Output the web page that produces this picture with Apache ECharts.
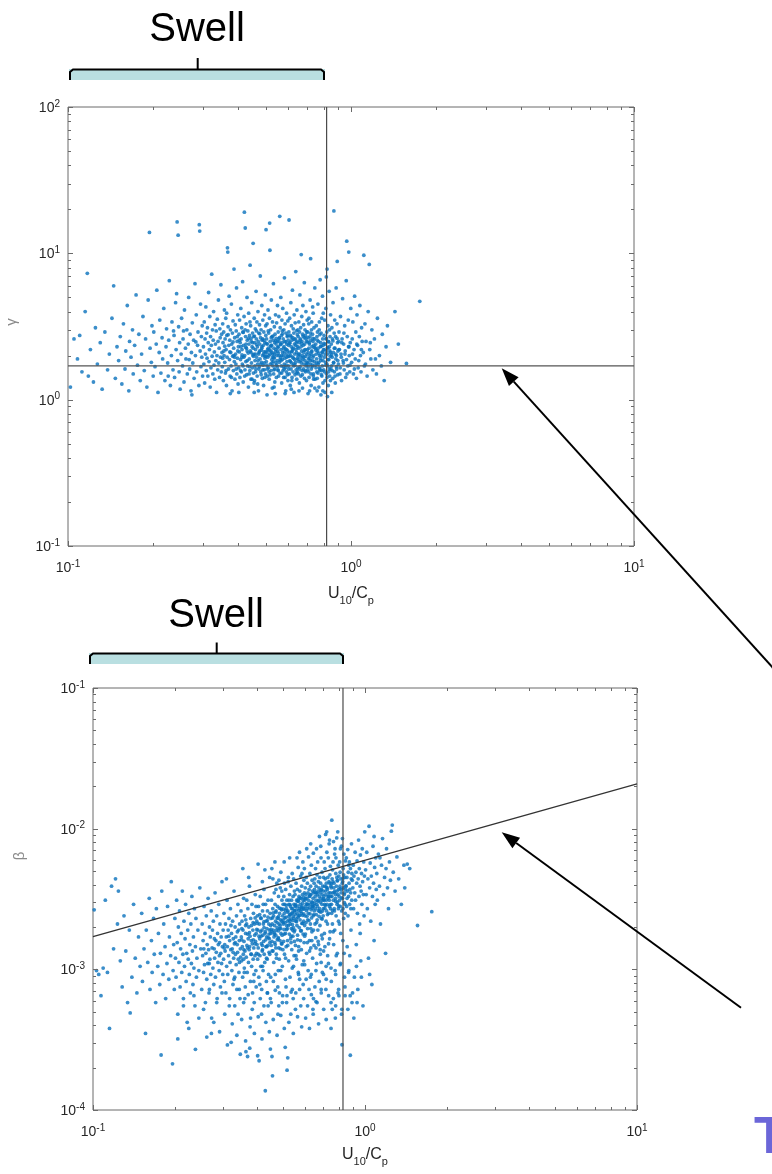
<!DOCTYPE html>
<html>
<head>
<meta charset="utf-8">
<script src="https://cdn.jsdelivr.net/npm/echarts@6/dist/echarts.min.js"></script>
<style>
html,body{margin:0;padding:0;background:#fff;}
#c{width:772px;height:1174px;}
</style>
</head>
<body>
<div id="c"></div>
<script>
// ---------- DATA ----------
// top panel: gamma vs U10/Cp
const gammaPoints = [
[0.102,1.22],[0.105,2.6],[0.108,1.9],[0.11,2.75],[0.112,1.55],[0.115,4.0],[0.117,7.3],[0.118,1.45],[0.12,2.2],[0.123,1.32],[0.125,3.1],[0.127,1.75],[0.13,2.45],[0.132,1.18],[0.135,2.9],[0.138,1.6],[0.14,2.05],[0.143,3.6],[0.145,6.0],[0.147,1.4],[0.149,2.3],
[0.151,1.85],[0.153,2.7],[0.155,1.28],[0.157,3.3],[0.159,1.62],[0.16,2.15],[0.162,4.4],[0.164,1.15],[0.165,2.5],[0.167,1.95],[0.169,3.0],[0.17,1.5],[0.172,2.35],[0.174,5.2],[0.176,1.72],[0.178,2.8],[0.18,1.35],[0.182,2.05],[0.184,3.7],[0.186,1.58],[0.188,2.6],[0.19,1.22],[0.192,4.8],[0.194,13.9],[0.195,2.25],[0.197,1.8],[0.198,3.2],[0.2,1.45],
[0.201,2.9],[0.203,1.68],[0.205,2.4],[0.206,5.6],[0.208,1.12],[0.21,2.1],[0.211,3.5],[0.213,1.52],[0.215,2.65],[0.216,1.9],[0.218,4.2],[0.22,1.35],[0.222,2.3],[0.223,3.05],[0.225,1.78],[0.227,2.55],[0.228,6.5],[0.23,1.25],[0.232,2.0],[0.233,3.4],[0.235,1.6],[0.237,2.75],[0.238,1.42],[0.24,4.6],[0.241,2.2],[0.243,16.4],[0.245,13.3],[0.244,1.85],[0.246,3.15],[0.247,1.55],[0.248,2.45],[0.249,1.18],[0.242,5.3],[0.236,2.95],[0.226,1.45],
[0.251,2.05],[0.252,3.6],[0.254,1.7],[0.255,2.6],[0.257,1.32],[0.258,4.1],[0.26,2.25],[0.261,1.9],[0.263,3.0],[0.264,1.5],[0.266,2.4],[0.267,5.0],[0.269,1.62],[0.27,2.8],[0.272,1.15],[0.273,2.1],[0.275,3.35],[0.276,1.78],[0.278,2.55],[0.279,1.4],[0.281,6.2],[0.282,2.0],[0.284,3.8],[0.285,1.55],[0.287,2.35],[0.288,2.9],[0.29,1.25],[0.291,15.7],[0.292,14.2],[0.293,2.15],[0.294,4.5],[0.295,1.68],[0.296,2.7],[0.297,1.95],[0.298,3.2],[0.299,1.45],[0.256,2.95],[0.268,1.88],[0.283,2.48],[0.274,1.08],
[0.301,2.3],[0.302,1.75],[0.303,3.4],[0.304,1.3],[0.305,2.6],[0.306,2.05],[0.307,4.3],[0.308,1.58],[0.309,2.85],[0.31,1.92],[0.311,3.1],[0.312,1.45],[0.313,2.45],[0.314,5.4],[0.315,1.82],[0.316,2.2],[0.317,3.7],[0.318,1.22],[0.319,2.7],[0.32,1.65],[0.321,2.35],[0.322,7.2],[0.323,1.98],[0.324,3.0],[0.325,1.5],[0.326,2.55],[0.327,4.0],[0.328,1.72],[0.329,2.12],[0.33,1.38],[0.331,3.25],[0.332,2.4],[0.333,1.85],[0.334,2.95],[0.335,1.12],[0.336,2.0],[0.337,3.55],[0.338,1.6],[0.339,2.5],[0.34,4.8],[0.341,1.78],[0.342,2.25],[0.343,1.42],[0.344,3.05],[0.345,2.65],[0.346,1.95],[0.347,6.1],[0.348,1.55],[0.349,2.8],[0.35,2.1],
[0.351,1.68],[0.352,3.3],[0.353,2.45],[0.354,1.35],[0.355,2.9],[0.356,2.0],[0.357,4.1],[0.358,1.8],[0.359,2.6],[0.36,1.52],[0.361,3.6],[0.362,2.2],[0.363,1.25],[0.364,2.75],[0.365,1.95],[0.366,10.9],[0.367,10.2],[0.368,3.15],[0.369,1.62],[0.37,2.35],[0.371,5.1],[0.372,1.88],[0.373,2.55],[0.374,1.45],[0.375,3.0],[0.376,2.1],[0.377,1.7],[0.378,4.5],[0.379,2.4],[0.38,1.15],[0.381,2.85],[0.382,1.98],[0.383,3.45],[0.384,1.58],[0.385,2.25],[0.386,7.8],[0.387,1.82],[0.388,2.65],[0.389,1.38],[0.39,3.25],[0.391,2.05],[0.392,1.75],[0.393,2.95],[0.394,5.8],[0.395,1.5],[0.396,2.5],[0.397,1.92],[0.398,3.8],[0.399,1.28],[0.4,2.3],[0.3555,2.15],[0.3635,3.9],[0.3745,1.1],[0.3855,2.0],[0.3965,2.7],
[0.401,1.65],[0.402,2.8],[0.403,2.12],[0.404,3.5],[0.405,1.42],[0.406,2.45],[0.407,1.88],[0.408,4.2],[0.409,2.6],[0.41,1.55],[0.411,3.1],[0.412,2.2],[0.413,1.75],[0.414,6.4],[0.415,2.9],[0.416,1.32],[0.417,2.35],[0.418,1.95],[0.419,3.7],[0.42,19.1],[0.421,2.0],[0.422,1.6],[0.423,14.9],[0.424,2.7],[0.425,1.82],[0.426,3.3],[0.427,2.25],[0.428,1.48],[0.429,5.0],[0.43,2.55],[0.431,1.7],[0.432,2.95],[0.433,2.08],[0.434,1.22],[0.435,3.9],[0.436,2.4],[0.437,1.9],[0.438,2.75],[0.439,1.58],[0.44,8.3],[0.441,2.15],[0.442,3.2],[0.443,1.38],[0.444,2.5],[0.445,1.78],[0.446,4.6],[0.447,2.3],[0.448,1.65],[0.449,2.85],[0.45,2.02],[0.4015,1.12],[0.4085,2.3],[0.4155,1.7],[0.4225,3.0],[0.4295,2.15],[0.4365,1.5],[0.4435,2.62],[0.4115,1.95],[0.4255,2.4],[0.4395,3.4],
[0.451,11.7],[0.452,1.52],[0.453,2.7],[0.454,2.05],[0.455,3.6],[0.456,1.35],[0.457,2.45],[0.458,1.85],[0.459,3.05],[0.46,2.2],[0.461,1.62],[0.462,5.5],[0.463,2.6],[0.464,1.95],[0.465,3.4],[0.466,1.45],[0.467,2.3],[0.468,1.75],[0.469,4.0],[0.47,2.5],[0.471,1.15],[0.472,2.85],[0.473,2.1],[0.474,1.68],[0.475,3.25],[0.476,2.4],[0.477,1.9],[0.478,7.0],[0.479,2.65],[0.48,1.55],[0.481,3.0],[0.482,2.18],[0.483,1.8],[0.484,4.4],[0.485,2.55],[0.486,1.4],[0.487,2.0],[0.488,3.5],[0.489,1.72],[0.49,2.35],[0.491,1.25],[0.492,2.9],[0.493,2.12],[0.494,1.6],[0.495,3.8],[0.496,2.45],[0.497,1.98],[0.498,5.2],[0.499,1.5],[0.5,2.75],[0.4515,2.25],[0.4575,1.7],[0.4635,2.95],[0.4695,1.85],[0.4755,2.15],[0.4815,1.48],[0.4875,2.6],[0.4935,1.78],[0.4995,3.2],[0.4605,2.05],[0.4725,1.62],[0.4845,2.3],[0.4965,1.92],[0.4545,1.3],[0.4905,2.05],
[0.501,14.5],[0.502,1.82],[0.503,2.6],[0.504,2.1],[0.505,3.3],[0.506,1.45],[0.507,2.4],[0.508,1.95],[0.509,4.1],[0.51,2.25],[0.511,1.65],[0.512,2.85],[0.513,2.0],[0.514,1.38],[0.515,3.6],[0.516,16.1],[0.517,10.5],[0.518,2.5],[0.519,1.75],[0.52,3.0],[0.521,2.15],[0.522,1.58],[0.523,4.8],[0.524,2.35],[0.525,1.88],[0.526,2.7],[0.527,1.2],[0.528,3.4],[0.529,2.05],[0.53,1.7],[0.531,2.55],[0.532,6.2],[0.533,1.5],[0.534,2.25],[0.535,1.92],[0.536,3.15],[0.537,2.45],[0.538,1.62],[0.539,2.8],[0.54,1.1],[0.541,3.8],[0.542,2.2],[0.543,1.78],[0.544,2.62],[0.545,1.42],[0.546,3.35],[0.547,2.0],[0.548,1.85],[0.549,2.5],[0.55,4.4],[0.5015,1.98],[0.5075,2.2],[0.5135,1.55],[0.5195,2.3],[0.5255,2.1],[0.5315,1.82],[0.5375,2.05],[0.5435,2.4],[0.5495,1.68],[0.5045,1.72],[0.5165,2.05],[0.5285,1.95],[0.5405,2.12],[0.5225,2.65],[0.5345,1.6],
[0.551,2.15],[0.552,1.6],[0.553,2.9],[0.554,2.3],[0.555,1.45],[0.556,3.7],[0.557,2.0],[0.558,1.8],[0.559,2.65],[0.56,17.9],[0.561,1.52],[0.562,3.1],[0.563,2.4],[0.564,1.95],[0.565,5.0],[0.566,2.2],[0.567,1.7],[0.568,2.75],[0.569,1.3],[0.57,3.5],[0.571,2.45],[0.572,1.88],[0.573,2.1],[0.574,4.2],[0.575,1.58],[0.576,2.6],[0.577,2.0],[0.578,1.42],[0.579,3.0],[0.58,2.3],[0.581,1.75],[0.582,6.8],[0.583,2.5],[0.584,1.92],[0.585,3.3],[0.586,1.65],[0.587,2.22],[0.588,1.15],[0.589,2.85],[0.59,2.05],[0.591,1.55],[0.592,3.9],[0.593,2.4],[0.594,1.82],[0.595,2.7],[0.596,1.48],[0.597,2.15],[0.598,3.45],[0.599,1.98],[0.6,2.55],[0.5535,2.08],[0.5655,1.85],[0.5775,2.25],[0.5895,1.72],[0.5565,2.5],[0.5685,2.0],[0.5805,1.62],[0.5925,2.2],[0.5985,1.35],[0.5715,2.95],
[0.601,1.7],[0.602,2.35],[0.603,2.9],[0.604,16.9],[0.605,1.5],[0.606,2.1],[0.607,3.6],[0.608,1.85],[0.609,2.45],[0.61,1.25],[0.611,2.75],[0.612,2.0],[0.613,4.6],[0.614,1.62],[0.615,2.3],[0.616,3.2],[0.617,1.78],[0.618,2.55],[0.619,1.42],[0.62,2.15],[0.621,5.6],[0.622,1.95],[0.623,2.65],[0.624,1.55],[0.625,3.05],[0.626,2.25],[0.627,1.7],[0.628,2.85],[0.629,1.12],[0.63,3.8],[0.631,2.4],[0.632,1.88],[0.633,2.05],[0.634,1.48],[0.635,3.35],[0.636,2.6],[0.637,1.8],[0.638,7.5],[0.639,2.2],[0.64,1.6],[0.641,2.95],[0.642,2.1],[0.643,1.38],[0.644,4.1],[0.645,2.5],[0.646,1.92],[0.647,2.3],[0.648,1.65],[0.649,3.0],[0.65,2.0],[0.6045,1.98],[0.6165,2.12],[0.6285,1.75],[0.6405,2.45],[0.6465,1.55],
[0.651,2.7],[0.652,1.5],[0.653,2.25],[0.654,3.4],[0.655,1.82],[0.656,2.45],[0.657,1.3],[0.658,2.9],[0.659,2.05],[0.66,5.2],[0.661,1.68],[0.662,2.6],[0.663,1.95],[0.664,3.1],[0.665,1.45],[0.666,2.3],[0.667,9.8],[0.668,1.78],[0.669,2.15],[0.67,3.7],[0.671,2.5],[0.672,1.58],[0.673,2.0],[0.674,1.2],[0.675,2.8],[0.676,4.4],[0.677,1.9],[0.678,2.35],[0.679,1.62],[0.68,3.25],[0.681,2.1],[0.682,1.75],[0.683,2.65],[0.684,6.3],[0.685,1.4],[0.686,2.4],[0.687,1.85],[0.688,3.0],[0.689,2.2],[0.69,1.55],[0.691,2.75],[0.692,1.98],[0.693,4.0],[0.694,1.7],[0.695,2.5],[0.696,1.35],[0.697,2.9],[0.698,2.05],[0.699,1.8],[0.7,3.5],
[0.701,2.2],[0.703,1.6],[0.705,2.65],[0.707,1.9],[0.709,3.3],[0.711,1.42],[0.713,2.4],[0.715,2.0],[0.717,4.8],[0.719,1.75],[0.72,9.2],[0.721,2.55],[0.723,1.25],[0.725,3.0],[0.727,2.15],[0.729,1.68],[0.731,2.8],[0.733,1.95],[0.735,3.9],[0.737,1.5],[0.739,2.35],[0.741,1.82],[0.743,2.6],[0.745,5.8],[0.747,1.38],[0.749,2.25],[0.702,2.9],[0.704,1.78],[0.706,2.1],[0.708,1.55],[0.71,3.6],[0.712,2.45],[0.714,1.15],[0.716,2.7],[0.718,1.85],[0.722,2.05],[0.724,1.62],[0.726,3.4],[0.728,2.3],[0.73,1.72],[0.732,4.3],[0.734,2.5],[0.736,1.45],[0.738,2.0],[0.74,3.1],
[0.751,2.4],[0.752,1.65],[0.754,3.2],[0.756,1.9],[0.758,2.7],[0.76,1.4],[0.762,2.15],[0.764,4.5],[0.766,1.75],[0.768,2.5],[0.77,1.22],[0.772,3.0],[0.774,2.0],[0.776,1.58],[0.778,6.6],[0.78,2.3],[0.782,1.85],[0.784,2.85],[0.786,1.48],[0.788,3.6],[0.79,2.1],[0.792,1.7],[0.794,2.6],[0.796,1.3],[0.798,3.9],[0.8,2.2],[0.753,2.05],[0.757,1.55],[0.761,2.9],[0.765,2.25],[0.769,1.8],[0.773,3.4],[0.777,1.62],[0.781,2.45],[0.785,2.0],[0.789,1.45],[0.793,5.1],[0.797,2.35],[0.759,1.15],[0.783,1.08],
[0.801,1.6],[0.803,2.75],[0.805,1.95],[0.807,3.5],[0.809,1.35],[0.811,2.4],[0.813,1.8],[0.815,4.2],[0.817,2.15],[0.819,1.5],[0.821,2.9],[0.823,7.8],[0.825,2.05],[0.827,1.7],[0.829,3.2],[0.831,1.25],[0.833,2.5],[0.835,1.88],[0.837,5.5],[0.839,2.3],[0.841,1.45],[0.843,2.7],[0.845,1.98],[0.847,3.8],[0.849,1.62],[0.804,2.2],[0.81,1.12],[0.816,2.6],[0.822,1.75],[0.828,2.25],[0.834,1.55],[0.84,3.0],[0.846,2.1],[0.826,1.05],[0.818,6.9],
[0.852,2.4],[0.854,1.7],[0.856,3.1],[0.858,1.95],[0.86,2.6],[0.862,1.4],[0.864,4.6],[0.866,2.1],[0.868,1.8],[0.87,19.5],[0.872,2.85],[0.874,1.55],[0.876,3.5],[0.878,2.25],[0.88,1.3],[0.882,2.7],[0.884,1.9],[0.886,5.8],[0.888,2.0],[0.89,1.62],[0.892,3.3],[0.894,8.8],[0.896,2.45],[0.898,1.48],[0.899,2.15],
[0.903,1.75],[0.907,2.9],[0.91,2.2],[0.914,1.5],[0.918,3.7],[0.922,2.05],[0.926,1.35],[0.93,2.6],[0.934,4.9],[0.938,1.85],[0.942,2.4],[0.946,1.6],[0.95,3.2],[0.954,2.15],[0.958,1.42],[0.962,6.5],[0.966,12.1],[0.97,2.7],[0.974,1.7],[0.978,3.5],[0.982,10.2],[0.986,2.0],[0.99,1.55],[0.994,2.45],[0.998,4.2],[0.905,2.5],[0.924,1.95],[0.944,2.85],[0.964,1.88],[0.984,2.3],
[1.005,1.8],[1.01,2.6],[1.015,3.4],[1.02,1.5],[1.025,2.2],[1.03,5.1],[1.035,1.9],[1.04,2.9],[1.045,1.4],[1.05,3.8],[1.055,2.35],[1.06,1.65],[1.07,2.7],[1.075,4.4],[1.08,2.0],[1.085,1.55],[1.09,3.1],[1.095,2.5],
[1.105,2.1],[1.11,9.7],[1.115,1.7],[1.12,3.3],[1.13,2.5],[1.14,1.45],[1.15,4.0],[1.16,8.4],[1.165,2.2],[1.175,1.9],[1.185,3.0],[1.195,1.6],
[1.21,2.6],[1.23,1.5],[1.24,3.6],[1.26,2.0],[1.28,1.7],[1.29,2.8],[1.31,1.35],[1.33,2.3],[1.345,3.2],
[1.38,1.8],[1.43,4.0],[1.47,2.4],[1.57,1.77],[1.75,4.7],
[0.352,1.92],[0.358,2.32],[0.362,1.58],[0.368,2.78],[0.373,2.12],[0.378,1.42],[0.383,2.48],[0.388,1.95],[0.393,1.62],[0.398,2.15],
[0.403,2.55],[0.407,1.58],[0.412,2.02],[0.416,2.88],[0.421,1.45],[0.425,2.28],[0.43,1.85],[0.434,2.62],[0.438,1.68],[0.443,2.1],[0.447,1.38],[0.449,2.45],
[0.452,1.98],[0.456,2.72],[0.46,1.55],[0.464,2.38],[0.468,1.28],[0.472,2.05],[0.476,2.82],[0.48,1.75],[0.484,2.25],[0.488,1.6],[0.492,2.55],[0.496,1.42],[0.499,2.12],
[0.502,2.42],[0.506,1.62],[0.51,2.95],[0.514,2.18],[0.518,1.48],[0.522,2.35],[0.526,1.78],[0.53,2.72],[0.534,1.95],[0.538,1.32],[0.542,2.52],[0.546,1.72],[0.55,2.28],
[0.553,1.58],[0.557,2.62],[0.561,1.88],[0.565,2.38],[0.569,1.52],[0.573,2.82],[0.577,1.68],[0.581,2.12],[0.585,1.42],[0.589,2.48],[0.593,1.95],[0.597,2.75],
[0.602,1.62],[0.606,2.42],[0.61,1.82],[0.614,2.68],[0.618,1.35],[0.622,2.22],[0.626,1.92],[0.63,2.58],[0.634,1.72],[0.638,2.35],[0.642,1.52],[0.646,2.78],[0.649,1.88],
[0.653,2.05],[0.657,1.62],[0.661,2.55],[0.665,1.85],[0.669,2.42],[0.673,1.48],[0.677,2.72],[0.681,1.95],[0.685,2.18],[0.689,1.58],[0.693,2.62],[0.697,1.75],
[0.702,2.48],[0.706,1.68],[0.71,2.25],[0.714,1.92],[0.718,2.85],[0.722,1.5],[0.726,2.12],[0.73,1.85],[0.734,2.62],[0.738,1.38],[0.742,2.28],[0.746,1.72],
[0.752,2.18],[0.756,1.78],[0.76,2.55],[0.764,1.52],[0.768,2.08],[0.772,1.65],[0.776,2.78],[0.78,1.92],[0.784,2.32],[0.788,1.58],[0.792,2.12],[0.796,1.85],
[0.802,2.42],[0.806,1.55],[0.81,2.05],[0.814,1.72],[0.818,2.62],[0.822,1.42],[0.826,2.28],[0.83,1.88],[0.834,2.48],[0.838,1.62],[0.842,2.15],[0.846,1.35],
[0.853,2.02],[0.858,1.58],[0.863,2.52],[0.868,1.78],[0.873,2.25],[0.878,1.45],[0.883,2.05],[0.888,1.68],[0.893,2.62],[0.898,1.85],
[0.906,2.2],[0.916,1.65],[0.928,2.45],[0.94,1.78],[0.952,2.05],[0.968,1.5],[0.98,2.3],[0.992,1.72],
[1.012,2.05],[1.028,1.62],[1.048,2.4],[1.065,1.85],[1.088,2.2],[1.125,1.75],[1.17,2.45],[1.22,1.9],
[0.455,1.12],[0.505,1.08],[0.585,1.1],[0.615,1.18],[0.655,1.15],[0.705,1.1],[0.745,1.2],[0.795,1.15],[0.855,1.12],[0.535,1.22]
];

// bottom panel: beta vs U10/Cp
const betaPoints = [
[0.101,0.00265],[0.103,0.00098],[0.105,0.00092],[0.107,0.00065],[0.109,0.00102],[0.111,0.0031],[0.113,0.00095],[0.115,0.00038],[0.117,0.0039],[0.119,0.0014],[0.121,0.0044],[0.123,0.0021],[0.124,0.0036],[0.126,0.00115],[0.128,0.00075],[0.13,0.0024],[0.132,0.00135],[0.134,0.00058],[0.136,0.0019],[0.137,0.00049],[0.139,0.00088],[0.141,0.0029],[0.143,0.0012],[0.145,0.00068],[0.147,0.0017],[0.149,0.00105],
[0.151,0.0025],[0.152,0.00082],[0.154,0.0014],[0.156,0.00035],[0.157,0.0019],[0.159,0.00112],[0.161,0.0032],[0.162,0.00072],[0.164,0.0016],[0.165,0.00095],[0.167,0.0023],[0.168,0.00128],[0.17,0.00058],[0.171,0.0027],[0.173,0.00105],[0.174,0.0018],[0.176,0.00078],[0.177,0.0013],[0.178,0.000246],[0.179,0.0036],[0.181,0.00092],[0.182,0.0021],[0.184,0.00145],[0.185,0.00062],[0.187,0.0011],[0.188,0.0028],[0.19,0.00085],[0.191,0.0017],[0.193,0.00125],[0.194,0.0042],[0.196,0.000213],[0.197,0.00098],[0.198,0.0015],[0.199,0.00072],[0.2,0.0023],
[0.201,0.0012],[0.202,0.00088],[0.203,0.0031],[0.204,0.00155],[0.205,0.00048],[0.206,0.002],[0.207,0.00112],[0.208,0.0026],[0.209,0.00075],[0.21,0.0014],[0.211,0.0018],[0.212,0.00095],[0.213,0.0036],[0.214,0.00128],[0.215,0.00062],[0.216,0.0022],[0.217,0.00105],[0.218,0.00165],[0.219,0.0029],[0.22,0.00082],[0.221,0.0013],[0.222,0.00042],[0.223,0.0019],[0.224,0.00118],[0.225,0.0025],[0.226,0.00092],[0.227,0.0015],[0.228,0.00068],[0.229,0.0021],[0.23,0.0011],[0.231,0.0033],[0.232,0.00135],[0.233,0.00078],[0.234,0.0017],[0.235,0.00102],[0.236,0.0027],[0.237,0.00055],[0.238,0.00145],[0.239,0.0023],[0.24,0.00088],[0.241,0.0012],[0.238,0.00027],[0.243,0.0019],[0.245,0.00098],[0.247,0.0038],[0.249,0.0014],
[0.251,0.00072],[0.252,0.0021],[0.253,0.00125],[0.254,0.0016],[0.255,0.00095],[0.256,0.0028],[0.257,0.00108],[0.258,0.0018],[0.259,0.00058],[0.26,0.0013],[0.261,0.0024],[0.262,0.00085],[0.263,0.0015],[0.264,0.0011],[0.265,0.0032],[0.266,0.00138],[0.267,0.00068],[0.268,0.002],[0.269,0.00118],[0.27,0.0017],[0.271,0.00092],[0.272,0.0026],[0.273,0.00045],[0.274,0.00142],[0.275,0.0019],[0.276,0.00102],[0.277,0.0022],[0.278,0.00078],[0.279,0.0014],[0.28,0.0012],[0.281,0.0035],[0.282,0.00088],[0.283,0.0016],[0.284,0.00132],[0.285,0.0024],[0.286,0.00062],[0.287,0.0018],[0.288,0.00112],[0.289,0.0015],[0.29,0.0029],[0.291,0.00098],[0.292,0.00155],[0.293,0.0021],[0.294,0.00075],[0.295,0.0013],[0.296,0.0017],[0.297,0.0011],[0.298,0.0042],[0.299,0.00145],[0.3,0.00092],[0.2555,0.0014],[0.2675,0.0011],[0.2795,0.00165],[0.2915,0.00125],[0.2725,0.00035],
[0.301,0.0019],[0.302,0.00118],[0.303,0.0025],[0.304,0.00082],[0.305,0.0015],[0.306,0.00135],[0.307,0.0021],[0.308,0.00068],[0.309,0.0017],[0.31,0.00105],[0.311,0.0031],[0.312,0.00145],[0.313,0.00092],[0.314,0.0019],[0.315,0.00125],[0.316,0.0023],[0.317,0.00055],[0.318,0.0016],[0.319,0.00112],[0.32,0.0027],[0.321,0.00138],[0.322,0.000303],[0.323,0.0018],[0.324,0.00098],[0.325,0.0014],[0.326,0.0022],[0.327,0.00078],[0.328,0.00165],[0.329,0.0012],[0.33,0.0036],[0.331,0.00152],[0.332,0.00088],[0.333,0.002],[0.334,0.00128],[0.335,0.0017],[0.336,0.00108],[0.337,0.0024],[0.338,0.00072],[0.339,0.0015],[0.34,0.00132],[0.341,0.0029],[0.342,0.00118],[0.343,0.0019],[0.344,0.00095],[0.345,0.0016],[0.346,0.0021],[0.347,0.00062],[0.348,0.0014],[0.349,0.00122],[0.35,0.0026],[0.348,0.000249],[0.3035,0.00142],[0.3155,0.00172],[0.3275,0.00132],[0.3395,0.00185],[0.3455,0.00112],[0.3215,0.00205],[0.3335,0.00155],[0.3095,0.0044],[0.3415,0.00048],
[0.351,0.0017],[0.352,0.00115],[0.353,0.0022],[0.354,0.00145],[0.355,0.00088],[0.356,0.0019],[0.357,0.00128],[0.358,0.0032],[0.359,0.00158],[0.36,0.00102],[0.361,0.0024],[0.362,0.00135],[0.363,0.00075],[0.364,0.0018],[0.365,0.00026],[0.366,0.00122],[0.367,0.0021],[0.368,0.00148],[0.369,0.00095],[0.37,0.00024],[0.371,0.0027],[0.372,0.00165],[0.373,0.00112],[0.374,0.002],[0.375,0.00138],[0.376,0.0039],[0.377,0.000275],[0.378,0.00172],[0.379,0.00082],[0.38,0.0023],[0.381,0.00128],[0.382,0.0016],[0.383,0.00105],[0.384,0.0029],[0.385,0.00152],[0.386,0.00068],[0.387,0.0019],[0.388,0.00118],[0.389,0.0025],[0.39,0.00142],[0.391,0.00092],[0.392,0.0021],[0.393,0.00175],[0.394,0.00125],[0.395,0.0034],[0.396,0.00158],[0.397,0.00098],[0.398,0.0018],[0.399,0.0013],[0.4,0.0022],[0.3525,0.00195],[0.3585,0.00138],[0.3645,0.00225],[0.3705,0.00178],[0.3765,0.00145],[0.3825,0.00205],[0.3885,0.00162],[0.3945,0.00232],[0.3555,0.0052],[0.3735,0.0045],[0.3915,0.00058],[0.3795,0.00045],[0.3615,0.00062],[0.3975,0.0028],[0.3675,0.0031],
[0.401,0.0015],[0.402,0.0024],[0.403,0.00118],[0.404,0.0019],[0.405,0.00142],[0.406,0.0028],[0.407,0.00088],[0.408,0.000224],[0.409,0.0021],[0.41,0.00165],[0.411,0.00125],[0.412,0.0033],[0.413,0.00185],[0.414,0.00105],[0.415,0.0023],[0.416,0.00152],[0.417,0.00072],[0.418,0.0019],[0.419,0.00135],[0.42,0.0026],[0.421,0.00175],[0.422,0.00098],[0.423,0.0021],[0.424,0.00158],[0.425,0.0037],[0.426,0.00128],[0.427,0.0024],[0.428,0.00112],[0.429,0.0018],[0.43,0.000137],[0.431,0.0029],[0.432,0.00145],[0.433,0.0022],[0.434,0.00082],[0.435,0.0017],[0.436,0.00195],[0.437,0.00118],[0.438,0.0026],[0.439,0.00148],[0.44,0.0031],[0.441,0.00168],[0.442,0.00092],[0.443,0.0021],[0.444,0.00132],[0.445,0.0019],[0.446,0.0045],[0.447,0.00155],[0.448,0.0025],[0.449,0.00062],[0.45,0.0018],[0.4015,0.00212],[0.4075,0.00172],[0.4135,0.00232],[0.4195,0.00148],[0.4255,0.00198],[0.4315,0.00162],[0.4375,0.00222],[0.4435,0.00178],[0.4045,0.0056],[0.4165,0.00048],[0.4285,0.0051],[0.4405,0.00055],[0.403,0.000243],[0.449,0.000271],[0.4225,0.0029],[0.4345,0.0012],[0.4105,0.00078],[0.4465,0.00128],[0.4195,0.0042],[0.4375,0.00068],
[0.451,0.0023],[0.452,0.00148],[0.453,0.0031],[0.454,0.00185],[0.455,0.00024],[0.456,0.0021],[0.457,0.000175],[0.458,0.0027],[0.459,0.00135],[0.46,0.0019],[0.461,0.0024],[0.462,0.00112],[0.463,0.0017],[0.464,0.0035],[0.465,0.00205],[0.466,0.00155],[0.467,0.0029],[0.468,0.00092],[0.469,0.0022],[0.47,0.00175],[0.471,0.0026],[0.472,0.00128],[0.473,0.0019],[0.474,0.0041],[0.475,0.00215],[0.476,0.00162],[0.477,0.0028],[0.478,0.00075],[0.479,0.0023],[0.48,0.00188],[0.481,0.0033],[0.482,0.00142],[0.483,0.0021],[0.484,0.00118],[0.485,0.0025],[0.486,0.00195],[0.487,0.0016],[0.488,0.0038],[0.489,0.00225],[0.49,0.00098],[0.491,0.0018],[0.492,0.0027],[0.493,0.00152],[0.494,0.0022],[0.495,0.0031],[0.496,0.00175],[0.497,0.00058],[0.498,0.0024],[0.499,0.00138],[0.5,0.0029],[0.4515,0.00192],[0.4575,0.00232],[0.4635,0.00178],[0.4695,0.00255],[0.4755,0.00198],[0.4815,0.00238],[0.4875,0.00205],[0.4935,0.00265],[0.4995,0.00215],[0.4545,0.0052],[0.4665,0.0058],[0.4785,0.00048],[0.4905,0.0049],[0.4605,0.00082],[0.4725,0.0012],[0.4845,0.00068],[0.4965,0.00105],[0.4585,0.0044],[0.4705,0.0037],[0.4825,0.0043],[0.4945,0.0036],[0.4555,0.00135],[0.4675,0.0015],[0.4795,0.00165],[0.4885,0.0014],
[0.501,0.0021],[0.502,0.00158],[0.503,0.0033],[0.504,0.00192],[0.505,0.0025],[0.506,0.00128],[0.507,0.0029],[0.508,0.00215],[0.509,0.000279],[0.51,0.0018],[0.511,0.0037],[0.512,0.00235],[0.513,0.00145],[0.514,0.0027],[0.515,0.00192],[0.516,0.0031],[0.517,0.000192],[0.518,0.0022],[0.519,0.0016],[0.52,0.000235],[0.521,0.0026],[0.522,0.0042],[0.523,0.00205],[0.524,0.00115],[0.525,0.0029],[0.526,0.00225],[0.527,0.00178],[0.528,0.0034],[0.529,0.00245],[0.53,0.00088],[0.531,0.0021],[0.532,0.0028],[0.533,0.00165],[0.534,0.0039],[0.535,0.00228],[0.536,0.00195],[0.537,0.0031],[0.538,0.00138],[0.539,0.0025],[0.54,0.0048],[0.541,0.00208],[0.542,0.0027],[0.543,0.00172],[0.544,0.0033],[0.545,0.00238],[0.546,0.00105],[0.547,0.0023],[0.548,0.0029],[0.549,0.00185],[0.55,0.0036],[0.5015,0.00268],[0.5075,0.00232],[0.5135,0.00285],[0.5195,0.00255],[0.5255,0.0031],[0.5315,0.00245],[0.5375,0.0027],[0.5435,0.00222],[0.5495,0.0026],[0.5045,0.0058],[0.5165,0.00065],[0.5285,0.0062],[0.5405,0.00072],[0.5225,0.0045],[0.5345,0.00155],[0.5465,0.0044],[0.5105,0.0012],[0.5485,0.00125],[0.5055,0.0041],[0.5175,0.00195],[0.5295,0.0022],[0.5415,0.0019],[0.5125,0.00075],[0.5335,0.00048],[0.5445,0.00062],
[0.551,0.0026],[0.552,0.0019],[0.553,0.0034],[0.554,0.00245],[0.555,0.00148],[0.556,0.0029],[0.557,0.0022],[0.558,0.0041],[0.559,0.00265],[0.56,0.00118],[0.561,0.0031],[0.562,0.00205],[0.563,0.0025],[0.564,0.0037],[0.565,0.00175],[0.566,0.0028],[0.567,0.00235],[0.568,0.0053],[0.569,0.00315],[0.57,0.00135],[0.571,0.0024],[0.572,0.0033],[0.573,0.00198],[0.574,0.0027],[0.575,0.00085],[0.576,0.0036],[0.577,0.00225],[0.578,0.0029],[0.579,0.0016],[0.58,0.0046],[0.581,0.00258],[0.582,0.0032],[0.583,0.00188],[0.584,0.0025],[0.585,0.0039],[0.586,0.00212],[0.587,0.0028],[0.588,0.00108],[0.589,0.0034],[0.59,0.00242],[0.591,0.0058],[0.592,0.00178],[0.593,0.0031],[0.594,0.00268],[0.595,0.0022],[0.596,0.0043],[0.597,0.00155],[0.598,0.0027],[0.599,0.0035],[0.6,0.00205],[0.5535,0.00282],[0.5595,0.00228],[0.5655,0.00305],[0.5715,0.00262],[0.5775,0.00322],[0.5835,0.00275],[0.5895,0.00295],[0.5955,0.00248],[0.5565,0.00068],[0.5685,0.00095],[0.5805,0.00055],[0.5925,0.00078],[0.5625,0.0062],[0.5745,0.0068],[0.5865,0.0048],[0.5985,0.0052],[0.5575,0.00125],[0.5705,0.00145],[0.5835,0.00138],[0.5955,0.00115],
[0.601,0.0031],[0.602,0.0024],[0.603,0.0038],[0.604,0.00178],[0.605,0.0028],[0.606,0.0034],[0.607,0.00215],[0.608,0.0045],[0.609,0.00262],[0.61,0.0013],[0.611,0.0032],[0.612,0.00238],[0.613,0.0029],[0.614,0.0041],[0.615,0.00195],[0.616,0.0027],[0.617,0.0035],[0.618,0.00098],[0.619,0.0025],[0.62,0.0063],[0.621,0.00308],[0.622,0.00222],[0.623,0.0037],[0.624,0.00275],[0.625,0.0016],[0.626,0.0033],[0.627,0.0048],[0.628,0.00248],[0.629,0.0029],[0.63,0.0021],[0.631,0.0039],[0.632,0.00142],[0.633,0.0034],[0.634,0.00265],[0.635,0.0055],[0.636,0.00232],[0.637,0.003],[0.638,0.00185],[0.639,0.0043],[0.64,0.00272],[0.641,0.0036],[0.642,0.0012],[0.643,0.0028],[0.644,0.0032],[0.645,0.0024],[0.646,0.0067],[0.647,0.0019],[0.648,0.0035],[0.649,0.00285],[0.65,0.0041],[0.6045,0.0032],[0.6165,0.0029],[0.6285,0.0034],[0.6405,0.003],[0.6075,0.00085],[0.6225,0.00072],[0.6345,0.00092],[0.6465,0.00062],[0.6135,0.00155],[0.6255,0.00135],[0.6375,0.0016],[0.6495,0.00148],[0.6105,0.0072],[0.6315,0.0078],[0.6435,0.00052],
[0.651,0.0026],[0.652,0.0037],[0.653,0.00295],[0.654,0.0044],[0.655,0.0021],[0.656,0.0033],[0.657,0.0027],[0.658,0.0052],[0.659,0.00168],[0.66,0.0031],[0.661,0.0039],[0.662,0.00245],[0.663,0.0035],[0.664,0.0011],[0.665,0.0029],[0.666,0.0047],[0.667,0.00225],[0.668,0.0034],[0.669,0.0028],[0.67,0.0058],[0.671,0.0019],[0.672,0.0036],[0.673,0.00262],[0.674,0.0042],[0.675,0.0015],[0.676,0.0031],[0.677,0.0038],[0.678,0.00238],[0.679,0.0033],[0.68,0.0088],[0.681,0.0027],[0.682,0.0045],[0.683,0.00205],[0.684,0.0035],[0.685,0.00128],[0.686,0.003],[0.687,0.0041],[0.688,0.00255],[0.689,0.0062],[0.69,0.0032],[0.691,0.0023],[0.692,0.0037],[0.693,0.00175],[0.694,0.0029],[0.695,0.0049],[0.696,0.0034],[0.697,0.00095],[0.698,0.0026],[0.699,0.0039],[0.7,0.0031],[0.6545,0.00075],[0.6665,0.00058],[0.6785,0.00082],[0.6905,0.00068],[0.6605,0.00142],[0.6725,0.00158],[0.6845,0.00138],[0.6965,0.00165],[0.6635,0.0072],[0.6875,0.0075],
[0.701,0.0036],[0.703,0.0027],[0.705,0.0045],[0.707,0.0031],[0.709,0.0018],[0.711,0.0039],[0.713,0.0052],[0.715,0.00285],[0.717,0.0034],[0.719,0.0022],[0.721,0.0041],[0.723,0.0095],[0.725,0.0029],[0.727,0.0037],[0.729,0.00125],[0.731,0.0033],[0.733,0.0062],[0.735,0.0025],[0.737,0.0042],[0.739,0.0031],[0.741,0.00165],[0.743,0.0047],[0.745,0.0035],[0.747,0.0027],[0.749,0.0039],[0.702,0.0024],[0.704,0.00092],[0.706,0.0033],[0.708,0.0058],[0.71,0.0029],[0.712,0.00145],[0.714,0.0044],[0.716,0.0036],[0.718,0.00072],[0.72,0.0031],[0.722,0.0026],[0.724,0.0068],[0.726,0.0038],[0.728,0.0021],[0.73,0.0045],[0.732,0.0032],[0.734,0.0011],[0.736,0.0035],[0.738,0.0078],[0.74,0.0028],[0.742,0.0041],[0.744,0.00185],[0.746,0.0054],[0.748,0.0033],[0.75,0.00058],[0.7045,0.00135],[0.7195,0.00105],[0.7345,0.00152],[0.7165,0.0091],[0.7405,0.0083],
[0.751,0.0038],[0.753,0.0029],[0.755,0.0115],[0.757,0.0044],[0.759,0.0021],[0.761,0.0035],[0.763,0.0058],[0.765,0.0031],[0.767,0.0015],[0.769,0.0041],[0.771,0.0027],[0.773,0.0066],[0.775,0.0036],[0.777,0.00098],[0.779,0.0032],[0.781,0.0048],[0.783,0.0024],[0.785,0.0039],[0.787,0.0086],[0.789,0.0029],[0.791,0.0013],[0.793,0.0043],[0.795,0.0034],[0.797,0.0055],[0.799,0.0022],[0.752,0.00082],[0.756,0.0033],[0.76,0.0051],[0.764,0.00185],[0.768,0.0038],[0.772,0.0026],[0.776,0.0072],[0.78,0.0034],[0.784,0.00125],[0.788,0.0045],[0.792,0.003],[0.796,0.00068],[0.8,0.0037],[0.754,0.0025],[0.762,0.0042],[0.774,0.0019],[0.782,0.0062],[0.79,0.0036],[0.798,0.0027],[0.758,0.00052],[0.778,0.00045],[0.794,0.0095],[0.766,0.0081],
[0.801,0.0046],[0.803,0.0033],[0.805,0.0021],[0.807,0.0058],[0.809,0.0039],[0.811,0.0028],[0.813,0.0011],[0.815,0.0044],[0.817,0.0035],[0.819,0.0075],[0.821,0.0026],[0.823,0.000291],[0.825,0.0041],[0.827,0.0032],[0.829,0.0016],[0.831,0.0052],[0.833,0.0038],[0.835,0.0023],[0.837,0.0066],[0.839,0.0034],[0.841,0.00088],[0.843,0.0045],[0.845,0.0029],[0.847,0.0059],[0.849,0.0037],[0.802,0.00065],[0.806,0.0031],[0.81,0.0049],[0.814,0.0018],[0.818,0.0037],[0.822,0.00052],[0.826,0.0085],[0.83,0.0027],[0.834,0.0047],[0.838,0.0013],[0.842,0.0035],[0.846,0.0025],[0.812,0.0072],[0.828,0.0042],[0.844,0.00075],
[0.852,0.0039],[0.854,0.0062],[0.856,0.0028],[0.858,0.0045],[0.86,0.00145],[0.862,0.0036],[0.864,0.0071],[0.866,0.0024],[0.868,0.0049],[0.87,0.0033],[0.872,0.00098],[0.874,0.0041],[0.876,0.0058],[0.878,0.0029],[0.88,0.0037],[0.882,0.00065],[0.883,0.000245],[0.884,0.0052],[0.886,0.0035],[0.888,0.0019],[0.89,0.0044],[0.892,0.0078],[0.894,0.0031],[0.896,0.00058],[0.898,0.0043],[0.859,0.0032],[0.871,0.0055],[0.879,0.00125],[0.887,0.0027],[0.895,0.0048],
[0.902,0.0038],[0.905,0.0055],[0.908,0.0027],[0.911,0.0046],[0.914,0.00088],[0.917,0.0035],[0.92,0.0068],[0.923,0.0031],[0.926,0.0049],[0.929,0.0015],[0.932,0.0041],[0.935,0.0059],[0.938,0.0025],[0.941,0.00072],[0.944,0.0044],[0.947,0.0083],[0.95,0.0033],[0.953,0.0052],[0.956,0.0021],[0.959,0.0039],[0.962,0.0065],[0.965,0.00115],[0.968,0.0036],[0.971,0.0048],[0.974,0.0029],[0.977,0.0072],[0.98,0.0042],[0.983,0.00055],[0.986,0.0034],[0.989,0.0058],[0.992,0.0024],[0.995,0.0046],[0.998,0.0095],[0.91,0.00045],[0.96,0.0018],
[1.005,0.0051],[1.01,0.0034],[1.015,0.0068],[1.02,0.0027],[1.025,0.0044],[1.03,0.0012],[1.035,0.0104],[1.04,0.0038],[1.045,0.0057],[1.05,0.0022],[1.055,0.0046],[1.06,0.00078],[1.065,0.0033],[1.07,0.0075],[1.075,0.0041],[1.08,0.0016],[1.085,0.0053],[1.09,0.0029],[1.095,0.0062],[1.1,0.0037],[1.04,0.00092],[1.08,0.0088],
[1.105,0.0048],[1.11,0.0031],[1.12,0.0066],[1.13,0.0039],[1.14,0.0021],[1.15,0.0055],[1.16,0.0085],[1.17,0.0034],[1.18,0.0045],[1.19,0.0013],[1.2,0.0072],[1.21,0.0038],[1.22,0.0027],[1.23,0.0058],[1.24,0.0043],[1.25,0.0096],[1.135,0.0062],[1.195,0.0052],
[1.26,0.0106],[1.27,0.0049],[1.29,0.0036],[1.31,0.0063],[1.33,0.0044],[1.36,0.0029],[1.39,0.0055],[1.43,0.0056],[1.46,0.0052],[1.56,0.00205],[1.76,0.00257],[1.4,0.0038],
[0.205,0.00032],[0.215,0.00055],[0.225,0.00038],[0.235,0.00065],[0.245,0.00045],[0.255,0.00052],[0.262,0.00033],[0.268,0.00072],[0.278,0.00042],[0.285,0.00058],[0.292,0.00036],[0.298,0.00068],[0.305,0.00048],[0.312,0.00029],[0.318,0.00062],[0.325,0.00041],[0.332,0.00055],[0.338,0.00034],[0.345,0.00072],[0.352,0.00044],[0.358,0.00058],[0.364,0.00031],[0.372,0.00066],[0.378,0.00039],[0.385,0.00052],[0.392,0.00035],[0.398,0.00075],[0.405,0.00046],[0.412,0.00062],[0.418,0.00032],[0.425,0.00055],[0.432,0.00042],[0.438,0.00068],[0.445,0.00036],[0.452,0.00058],[0.46,0.00044],[0.468,0.00071],[0.475,0.00034],[0.482,0.00055],[0.49,0.00047],[0.498,0.00065],[0.505,0.00038],[0.515,0.00058],[0.525,0.00042],[0.535,0.00069],[0.545,0.00035],[0.555,0.00052],[0.565,0.00046],[0.575,0.00072],[0.585,0.00039],[0.595,0.00062],[0.605,0.00045],[0.615,0.00055],[0.625,0.00038],[0.635,0.00066],[0.645,0.00048],[0.66,0.00059],[0.675,0.00041],[0.69,0.00072],[0.705,0.00052],[0.72,0.00044],[0.735,0.00065],[0.75,0.00038],[0.765,0.00062],[0.78,0.00055],[0.8,0.00072],[0.82,0.00048],[0.845,0.00065],[0.865,0.00052],[0.9,0.00068],[0.935,0.00058],
[0.352,0.00162],[0.358,0.00118],[0.364,0.00205],[0.37,0.00142],[0.376,0.00182],[0.382,0.00128],[0.388,0.00215],[0.394,0.00152],[0.4,0.00192],
[0.405,0.00128],[0.41,0.00245],[0.415,0.00172],[0.42,0.00138],[0.425,0.00218],[0.43,0.00185],[0.435,0.00145],[0.44,0.00235],[0.445,0.00165],[0.45,0.00205],
[0.455,0.00158],[0.46,0.00252],[0.465,0.00182],[0.47,0.00142],[0.475,0.00232],[0.48,0.00168],[0.485,0.00272],[0.49,0.00195],[0.495,0.00152],[0.5,0.00225],
[0.505,0.00178],[0.51,0.00262],[0.515,0.00205],[0.52,0.00148],[0.525,0.00238],[0.53,0.00288],[0.535,0.00172],[0.54,0.00252],[0.545,0.00198],[0.55,0.00158],
[0.555,0.00282],[0.56,0.00218],[0.565,0.00162],[0.57,0.00305],[0.575,0.00242],[0.58,0.00188],[0.585,0.00268],[0.59,0.00212],[0.595,0.00325],[0.6,0.00172],
[0.608,0.00292],[0.616,0.00225],[0.624,0.00332],[0.632,0.00195],[0.64,0.00282],[0.648,0.00245],[0.656,0.00352],[0.664,0.00215],[0.672,0.00305],[0.68,0.00258],
[0.688,0.00365],[0.696,0.00228],[0.704,0.00318],[0.712,0.00272],[0.72,0.00385],[0.728,0.00245],[0.736,0.00332],[0.744,0.00288],[0.752,0.00405],[0.76,0.00262],
[0.77,0.00352],[0.78,0.00305],[0.79,0.00425],[0.8,0.00282],[0.81,0.00375],[0.82,0.00322],[0.83,0.00445],[0.84,0.00298],[0.85,0.00392],
[0.33,0.00085],[0.36,0.00095],[0.39,0.00082],[0.42,0.00105],[0.45,0.00088],[0.48,0.00098],[0.51,0.00085],[0.54,0.00102],[0.57,0.00092],[0.6,0.00108],[0.63,0.00088],[0.66,0.00098],[0.69,0.00112],[0.72,0.00085],[0.75,0.00102],[0.78,0.00092],[0.81,0.00108],[0.87,0.00095],[0.93,0.00105],[0.97,0.00088]
];

// axis ranges and ticks
const xRange = [0.1, 10];
const gammaRange = [0.1, 100];
const betaRange = [0.0001, 0.1];
const xMajorTicks = [0.1, 1, 10];
const xMinorTicks = [0.2,0.3,0.4,0.5,0.6,0.7,0.8,0.9,2,3,4,5,6,7,8,9];
const gammaMajorTicks = [0.1, 1, 10, 100];
const gammaMinorTicks = [0.2,0.3,0.4,0.5,0.6,0.7,0.8,0.9,2,3,4,5,6,7,8,9,20,30,40,50,60,70,80,90];
const betaMajorTicks = [0.0001, 0.001, 0.01, 0.1];
const betaMinorTicks = [0.0002,0.0003,0.0004,0.0005,0.0006,0.0007,0.0008,0.0009,0.002,0.003,0.004,0.005,0.006,0.007,0.008,0.009,0.02,0.03,0.04,0.05,0.06,0.07,0.08,0.09];

// reference lines
const gammaRefX = 0.82;      // vertical line, top panel
const gammaRefY = 1.7;       // horizontal line, top panel
const betaRefX = 0.83;       // vertical line, bottom panel
const betaFitX = [0.1, 10];  // fitted line, bottom panel
const betaFitY = [0.00171, 0.0208];

// texts
const bracketText = 'Swell';
const xName = '{n|U}{sub|10}{n|/C}{sub|p}';
const gammaName = 'γ';
const betaName = 'β';
const cornerText = 'T';

// ---------- STYLE ----------
const FONT = '"Liberation Sans", Arial, Helvetica, sans-serif';
const AXIS_COLOR = '#6a6a6a';
const TEXT_COLOR = '#262626';
const DOT_COLOR = '#0a72bd';

function powLabel(v) {
  const e = Math.round(Math.log10(v));
  return '{b|10}{s|' + e + '}';
}
const tickRich = {
  b: {fontSize: 14, lineHeight: 16, verticalAlign: 'bottom', color: TEXT_COLOR, fontFamily: FONT},
  s: {fontSize: 10, lineHeight: 12, padding: [0, 0, 7, 0], verticalAlign: 'top', color: TEXT_COLOR, fontFamily: FONT}
};
const nameRich = {
  n: {fontSize: 16, lineHeight: 18, verticalAlign: 'top', color: TEXT_COLOR, fontFamily: FONT},
  sub: {fontSize: 11, lineHeight: 12, padding: [9, 0, 0, 0], verticalAlign: 'top', color: TEXT_COLOR, fontFamily: FONT}
};

function makeXAxis(gridIndex, gap) {
  return {
    gridIndex: gridIndex, type: 'log', logBase: 10, min: xRange[0], max: xRange[1],
    axisLine: {show: false}, axisTick: {show: false}, splitLine: {show: false}, minorTick: {show: false},
    axisLabel: {formatter: powLabel, rich: tickRich, margin: 13, showMinLabel: true, showMaxLabel: true},
    name: xName, nameLocation: 'middle', nameGap: gap, nameTextStyle: {rich: nameRich}
  };
}
function makeYAxis(gridIndex, range) {
  return {
    gridIndex: gridIndex, type: 'log', logBase: 10, min: range[0], max: range[1],
    axisLine: {show: false}, axisTick: {show: false}, splitLine: {show: false}, minorTick: {show: false},
    axisLabel: {formatter: powLabel, rich: tickRich, margin: 8, showMinLabel: true, showMaxLabel: true}
  };
}

function tickItems(xMaj, xMin, yMaj, yMin, x0, y0) {
  const out = [];
  xMaj.forEach(v => out.push([v, y0, 0, 5]));
  xMin.forEach(v => out.push([v, y0, 0, 3]));
  yMaj.forEach(v => out.push([x0, v, 1, 5]));
  yMin.forEach(v => out.push([x0, v, 1, 3]));
  return out;
}
function renderTicks(params, api) {
  const cs = params.coordSys;
  const flag = api.value(2), len = api.value(3);
  const p = api.coord([api.value(0), api.value(1)]);
  const st = {stroke: AXIS_COLOR, lineWidth: 1};
  if (flag === 0) {
    const x = Math.round(p[0]) + 0.5;
    const yb = cs.y + cs.height, yt = cs.y;
    return {type: 'group', children: [
      {type: 'line', shape: {x1: x, y1: yb, x2: x, y2: yb - len}, style: st},
      {type: 'line', shape: {x1: x, y1: yt, x2: x, y2: yt + len}, style: st}
    ]};
  }
  const y = Math.round(p[1]) + 0.5;
  const xl = cs.x, xr = cs.x + cs.width;
  return {type: 'group', children: [
    {type: 'line', shape: {x1: xl, y1: y, x2: xl + len, y2: y}, style: st},
    {type: 'line', shape: {x1: xr, y1: y, x2: xr - len, y2: y}, style: st}
  ]};
}

function arrow(tail, tip) {
  const dx = tail[0] - tip[0], dy = tail[1] - tip[1];
  const L = Math.sqrt(dx * dx + dy * dy);
  const ux = dx / L, uy = dy / L;
  const hl = 18, hw = 6.5;
  const bx = tip[0] + ux * hl, by = tip[1] + uy * hl;
  return [
    {type: 'line', shape: {x1: tail[0], y1: tail[1], x2: bx, y2: by}, style: {stroke: '#000', lineWidth: 2}, z: 10},
    {type: 'polygon', shape: {points: [tip, [bx - uy * hw, by + ux * hw], [bx + uy * hw, by - ux * hw]]}, style: {fill: '#000'}, z: 10}
  ];
}
function bracket(x1, x2, yTop, yBot, xc, yTick) {
  return [
    {type: 'rect', shape: {x: x1, y: yTop, width: x2 - x1, height: yBot - yTop}, style: {fill: '#b9dfe1'}, z: 5},
    {type: 'polyline', shape: {points: [[x1 + 1, yBot], [x1 + 1, yTop + 3], [x1 + 4, yTop + 0.5], [x2 - 4, yTop + 0.5], [x2 - 1, yTop + 3], [x2 - 1, yBot]]}, style: {stroke: '#000', lineWidth: 2, fill: null}, z: 6},
    {type: 'line', shape: {x1: xc, y1: yTop, x2: xc, y2: yTick}, style: {stroke: '#000', lineWidth: 2}, z: 6}
  ];
}

const graphics = [].concat(
  [{type: 'text', x: 197, y: 30, style: {text: bracketText, fontSize: 40, fontFamily: FONT, fill: '#000', align: 'center', verticalAlign: 'middle'}, z: 6}],
  bracket(69, 325, 69, 80, 197.7, 58),
  [{type: 'text', x: 216, y: 616, style: {text: bracketText, fontSize: 40, fontFamily: FONT, fill: '#000', align: 'center', verticalAlign: 'middle'}, z: 6}],
  bracket(89, 344, 653, 664, 216.7, 642.5),
  arrow([790, 686.6], [501.7, 368.3]),
  arrow([741, 1007.7], [501.7, 832.3]),
  [
    {type: 'text', x: 12, y: 322, rotation: Math.PI / 2, style: {text: gammaName, fontSize: 15, fontFamily: FONT, fill: '#8a8a8a', align: 'center', verticalAlign: 'middle'}},
    {type: 'text', x: 20, y: 856, rotation: Math.PI / 2, style: {text: betaName, fontSize: 15, fontFamily: FONT, fill: '#8a8a8a', align: 'center', verticalAlign: 'middle'}},
    {type: 'text', x: 754, y: 1139, style: {text: cornerText, fontSize: 52, fontWeight: 'bold', fontFamily: FONT, fill: '#6b66d8', align: 'left', verticalAlign: 'middle'}}
  ]
);

const option = {
  animation: false,
  backgroundColor: '#ffffff',
  grid: [
    {left: 68, top: 107, width: 566, height: 439, show: true, borderColor: AXIS_COLOR, borderWidth: 1, backgroundColor: '#fff', outerBoundsMode: 'none', containLabel: false},
    {left: 93, top: 688, width: 544, height: 422, show: true, borderColor: AXIS_COLOR, borderWidth: 1, backgroundColor: '#fff', outerBoundsMode: 'none', containLabel: false}
  ],
  xAxis: [makeXAxis(0, 40), makeXAxis(1, 37)],
  yAxis: [makeYAxis(0, gammaRange), makeYAxis(1, betaRange)],
  series: [
    {type: 'scatter', xAxisIndex: 0, yAxisIndex: 0, data: gammaPoints, symbol: 'circle', symbolSize: 3.8, itemStyle: {color: DOT_COLOR}, z: 2, silent: true},
    {type: 'scatter', xAxisIndex: 1, yAxisIndex: 1, data: betaPoints, symbol: 'circle', symbolSize: 3.8, itemStyle: {color: DOT_COLOR}, z: 2, silent: true},
    {type: 'line', xAxisIndex: 0, yAxisIndex: 0, data: [[gammaRefX, gammaRange[0]], [gammaRefX, gammaRange[1]]], symbol: 'none', lineStyle: {color: '#4a4a4a', width: 1.2}, z: 3, silent: true},
    {type: 'line', xAxisIndex: 0, yAxisIndex: 0, data: [[xRange[0], gammaRefY], [xRange[1], gammaRefY]], symbol: 'none', lineStyle: {color: '#555', width: 1.2}, z: 3, silent: true},
    {type: 'line', xAxisIndex: 1, yAxisIndex: 1, data: [[betaRefX, betaRange[0]], [betaRefX, betaRange[1]]], symbol: 'none', lineStyle: {color: '#4a4a4a', width: 1.2}, z: 3, silent: true},
    {type: 'line', xAxisIndex: 1, yAxisIndex: 1, data: [[betaFitX[0], betaFitY[0]], [betaFitX[1], betaFitY[1]]], symbol: 'none', lineStyle: {color: '#333', width: 1.2}, z: 3, silent: true},
    {type: 'custom', xAxisIndex: 0, yAxisIndex: 0, data: tickItems(xMajorTicks, xMinorTicks, gammaMajorTicks, gammaMinorTicks, xRange[0], gammaRange[0]), renderItem: renderTicks, z: 4, silent: true},
    {type: 'custom', xAxisIndex: 1, yAxisIndex: 1, data: tickItems(xMajorTicks, xMinorTicks, betaMajorTicks, betaMinorTicks, xRange[0], betaRange[0]), renderItem: renderTicks, z: 4, silent: true}
  ],
  graphic: graphics
};

const chart = echarts.init(document.getElementById('c'), null, {renderer: 'canvas', width: 772, height: 1174});
chart.setOption(option);
</script>
</body>
</html>
